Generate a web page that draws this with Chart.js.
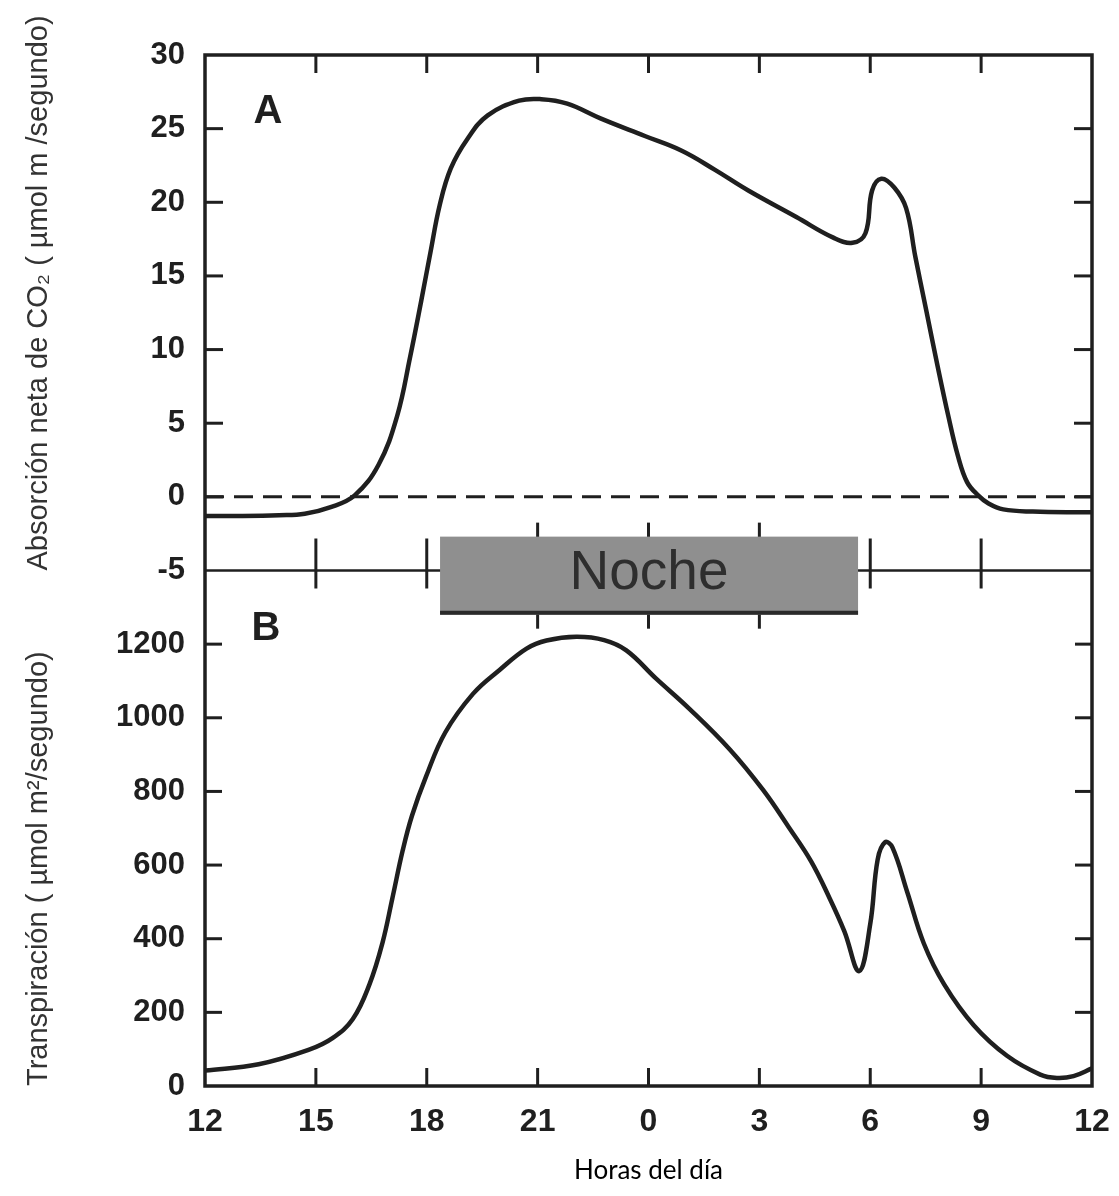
<!DOCTYPE html>
<html>
<head>
<meta charset="utf-8">
<script src="https://cdn.jsdelivr.net/npm/chart.js@4.4.1/dist/chart.umd.min.js"></script>
<style>
  html, body { margin: 0; padding: 0; background: #fff; }
</style>
</head>
<body>
<canvas id="chart" width="1119" height="1196"></canvas>
<script>
// Horas en escala continua: 12 = mediodía, 24 = medianoche, 36 = mediodía siguiente
const hourTicks = [12, 15, 18, 21, 24, 27, 30, 33, 36];
const hourLabels = ['12', '15', '18', '21', '0', '3', '6', '9', '12'];

const co2Ticks = [-5, 0, 5, 10, 15, 20, 25, 30];
const transpTicks = [0, 200, 400, 600, 800, 1000, 1200];

// A: absorción neta de CO2
const co2Hours = [12, 13, 14, 14.7, 15.4, 16.05, 16.7, 17.2, 17.55, 17.85, 18.1, 18.35, 18.65, 19.1, 19.65,
  20.5, 21.1, 21.8, 22.7, 23.9, 24.9, 25.8, 26.7, 28, 29, 29.52, 29.87, 30.05, 30.3, 30.65,
  30.97, 31.22, 31.52, 31.82, 32.12, 32.37, 32.62, 32.92, 33.2, 33.6, 34.4, 35.8, 36];
const co2Values = [-1.3, -1.3, -1.25, -1.15, -0.7, 0.1, 2.2, 5.5, 9.5, 13.3, 16.6, 19.8, 22.3, 24.3, 25.9,
  26.9, 27.0, 26.7, 25.7, 24.5, 23.5, 22.2, 20.8, 19, 17.6, 17.25, 17.9, 20.8, 21.6, 21.0,
  19.6, 16.3, 12.6, 8.9, 5.4, 2.8, 1.0, 0.1, -0.45, -0.85, -1.0, -1.05, -1.05];

// B: transpiración
const transpHours = [12, 13.45, 14.8, 15.45, 16, 16.45, 16.8, 17.07, 17.35, 17.6, 17.98, 18.5, 19.25, 19.97,
  20.7, 21.24, 22.05, 22.8, 23.4, 24.2, 25.1, 26.2, 27.1, 27.8, 28.4, 28.9, 29.3, 29.7, 30.0, 30.2,
  30.4, 30.6, 31.0, 31.45, 32.0, 32.8, 33.7, 34.6, 35.05, 35.5, 36];
const transpValues = [42, 59, 98, 130, 182, 276, 388, 510, 640, 734, 840, 960, 1065, 1130,
  1188, 1210, 1220, 1211, 1183, 1107, 1025, 914, 804, 702, 610, 510, 420, 312, 440, 615,
  662, 648, 527, 387, 276, 165, 82, 31, 22, 27, 48];

// banda "Noche"
const nightStart = 18.36;
const nightEnd = 29.67;

const ink = '#1f1f1f';
const toPoints = (xs, ys) => xs.map((x, i) => ({ x: x, y: ys[i] }));

const framePlugin = {
  id: 'frame',
  afterDraw(chart) {
    const { ctx, chartArea: a, scales } = chart;
    const x = scales.x, yA = scales.yA, yB = scales.yB;
    const mid = yA.bottom;
    const line = (x1, y1, x2, y2) => { ctx.beginPath(); ctx.moveTo(x1, y1); ctx.lineTo(x2, y2); ctx.stroke(); };

    ctx.save();
    ctx.strokeStyle = ink;
    ctx.lineWidth = 3.5;

    // marcos
    ctx.strokeRect(a.left, a.top, a.right - a.left, a.bottom - a.top);
    ctx.lineWidth = 2.5;
    line(a.left, mid, a.right, mid);

    // marcas del eje y, hacia dentro en ambos lados
    ctx.lineWidth = 3;
    co2Ticks.slice(1, -1).forEach(v => {
      const py = yA.getPixelForValue(v);
      line(a.left, py, a.left + 18, py);
      line(a.right - 18, py, a.right, py);
    });
    transpTicks.slice(1).forEach(v => {
      const py = yB.getPixelForValue(v);
      line(a.left, py, a.left + 17, py);
      line(a.right - 17, py, a.right, py);
    });

    // marcas del eje x: arriba, abajo y en la línea central
    const boxTop = yA.getPixelForValue(-2.7);
    const boxBottom = yB.getPixelForValue(1280);
    hourTicks.slice(1, -1).forEach(v => {
      const px = x.getPixelForValue(v);
      line(px, a.top, px, a.top + 18);
      line(px, a.bottom, px, a.bottom - 18);
      if (v > nightStart && v < nightEnd) {
        line(px, boxTop - 14, px, boxBottom + 14);
      } else {
        line(px, mid - 32, px, mid + 18);
      }
    });

    // banda de la noche
    const bx1 = x.getPixelForValue(nightStart);
    const bx2 = x.getPixelForValue(nightEnd);
    ctx.fillStyle = '#8f8f8f';
    ctx.fillRect(bx1, boxTop, bx2 - bx1, boxBottom - boxTop);
    ctx.lineWidth = 4;
    ctx.strokeStyle = '#2a2a2a';
    line(bx1, boxBottom - 2, bx2, boxBottom - 2);
    ctx.fillStyle = '#2e2e2e';
    ctx.font = '55px "Liberation Sans", Arial, sans-serif';
    ctx.textAlign = 'center';
    ctx.textBaseline = 'middle';
    ctx.fillText('Noche', (bx1 + bx2) / 2, (boxTop + boxBottom) / 2 - 2);

    // letras de los paneles
    ctx.fillStyle = ink;
    ctx.font = 'bold 40px "Liberation Sans", Arial, sans-serif';
    ctx.fillText('A', x.getPixelForValue(13.7), yA.getPixelForValue(26.1));
    ctx.fillText('B', x.getPixelForValue(13.65), yB.getPixelForValue(1240));
    ctx.restore();
  }
};

const yTickFont = { family: '"Liberation Sans", Arial, sans-serif', size: 31, weight: 'bold' };
const xTickFont = { family: '"Liberation Sans", Arial, sans-serif', size: 32, weight: 'bold' };
const titleFont = { family: '"Liberation Sans", Arial, sans-serif', size: 29 };

function yScale(min, max, ticks, title, weight) {
  return {
    type: 'linear',
    position: 'left',
    stack: 'panels',
    stackWeight: weight,
    min: min,
    max: max,
    afterBuildTicks: s => { s.ticks = ticks.map(v => ({ value: v })); },
    afterFit: s => { s.width = 191; },
    grid: { display: false, drawTicks: false },
    border: { display: false },
    ticks: { font: yTickFont, color: ink, padding: 20, callback: v => String(v) },
    title: { display: true, text: title, align: 'start', font: titleFont, color: '#333', padding: { top: 8, bottom: 0 } }
  };
}

new Chart(document.getElementById('chart'), {
  type: 'line',
  data: {
    datasets: [
      {
        data: toPoints(co2Hours, co2Values),
        yAxisID: 'yA',
        borderColor: ink,
        borderWidth: 4.5,
        pointRadius: 0,
        tension: 0.4
      },
      {
        data: toPoints([12, 36], [0, 0]),
        yAxisID: 'yA',
        borderColor: ink,
        borderWidth: 3,
        borderDash: [19, 10],
        pointRadius: 0
      },
      {
        data: toPoints(transpHours, transpValues),
        yAxisID: 'yB',
        borderColor: ink,
        borderWidth: 4.5,
        pointRadius: 0,
        tension: 0.4
      }
    ]
  },
  options: {
    responsive: false,
    animation: false,
    layout: { padding: { left: 14, right: 27, top: 55, bottom: 6 } },
    plugins: { legend: { display: false }, tooltip: { enabled: false } },
    scales: {
      x: {
        type: 'linear',
        min: 12,
        max: 36,
        afterBuildTicks: s => { s.ticks = hourTicks.map(v => ({ value: v })); },
        afterFit: s => { s.height = 104; s.paddingLeft = 0; s.paddingRight = 0; },
        grid: { display: false, drawTicks: false },
        border: { display: false },
        ticks: {
          font: xTickFont,
          color: ink,
          padding: 17,
          maxRotation: 0,
          callback: v => hourLabels[hourTicks.indexOf(v)]
        },
        title: { display: true, text: 'Horas del día', font: { family: 'Lato, "Open Sans", sans-serif', size: 26 }, color: '#000', padding: { top: 12 } }
      },
      // los ejes apilados a la izquierda se colocan en orden inverso: B abajo, A arriba
      yB: yScale(0, 1400, transpTicks, 'Transpiración ( µmol m²/segundo)', 1),
      yA: yScale(-5, 30, co2Ticks, 'Absorción neta de CO₂ ( µmol m /segundo)', 1)
    }
  },
  plugins: [framePlugin]
});
</script>
</body>
</html>
